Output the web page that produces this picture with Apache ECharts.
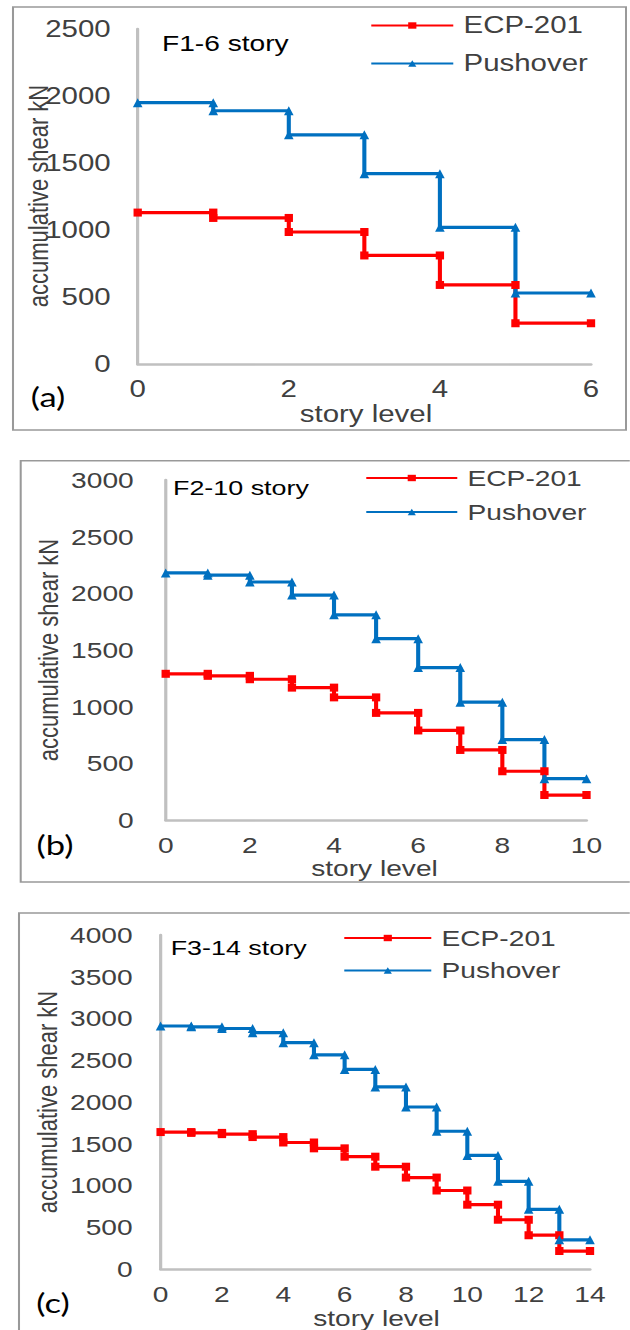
<!DOCTYPE html>
<html>
<head>
<meta charset="utf-8">
<script src="https://cdn.jsdelivr.net/npm/echarts@6/dist/echarts.min.js"></script>
<style>
  html, body { margin: 0; padding: 0; background: #fff; }
  #wrap { position: relative; width: 630px; height: 1330px; overflow: hidden; }
  .panel { position: absolute; left: 0; top: 0; height: 1330px; transform-origin: 0 0; }
</style>
</head>
<body>
<div id="wrap"></div>
<script>
// Accumulated storey shear (kN); entry i is the shear of storey i+1,
// drawn as a flat step from level i to level i+1.
const ecpA      = [1130, 1090, 985, 810, 590, 305];
const pushoverA = [1950, 1890, 1710, 1420, 1020, 530];

const ecpB      = [1290, 1272, 1242, 1168, 1082, 945, 790, 618, 430, 220];
const pushoverB = [2180, 2160, 2100, 1985, 1810, 1600, 1345, 1040, 710, 365];

const ecpC      = [1640, 1630, 1615, 1580, 1515, 1445, 1345, 1225, 1095, 940, 770, 590, 405, 215];
const pushoverC = [2910, 2900, 2880, 2830, 2710, 2565, 2390, 2180, 1940, 1650, 1360, 1050, 715, 350];

// axis ranges: [x max, x step, y max, y step]
const axisA = [6, 2, 2500, 500];
const axisB = [10, 2, 3000, 500];
const axisC = [14, 2, 4000, 500];

const seriesNames = ['ECP-201', 'Pushover'];
const panelTitles = ['F1-6 story', 'F2-10 story', 'F3-14 story'];
const panelTags   = ['(a)', '(b)', '(c)'];
const yAxisTitle  = 'accumulative shear kN';
const xAxisTitle  = 'story level';

// Each panel is laid out in page pixels and then widened horizontally.
const S = 1.28;
const FONT = '"Liberation Sans", Arial, sans-serif';
const TEXT = '#404040';

const layouts = [
  { axisX: 137.7, xEndX: 591,   yTop: 29,  yZero: 364,  box: [13, 7, 626, 430],
    lab: 27, legX: 370, legLine: 82, legTop: 14,  legGap: 15, titleX: 162, titleY: 43,
    tag: [48, 397], xName: [366, 414], yName: [38, 196], font: 22, tick: 23 },
  { axisX: 165.7, xEndX: 586.5, yTop: 480, yZero: 820,  box: [20.7, 460.7, 660, 882],
    lab: 32, legX: 365, legLine: 91, legTop: 467, legGap: 12, titleX: 173, titleY: 488,
    tag: [55, 845], xName: [374.5, 868], yName: [47.5, 650], font: 21, tick: 22 },
  { axisX: 160.6, xEndX: 590,   yTop: 935, yZero: 1269, box: [19, 913, 660, 1360],
    lab: 28, legX: 343, legLine: 87, legTop: 927, legGap: 10.5, titleX: 170.7, titleY: 948,
    tag: [53, 1303], xName: [376.5, 1318], yName: [47.4, 1102], font: 21, tick: 22 }
];

const panelData = [
  [ecpA, pushoverA, axisA],
  [ecpB, pushoverB, axisB],
  [ecpC, pushoverC, axisC]
];

// storey values -> stepped polyline with a point at both ends of each storey
function steps(values) {
  const pts = [];
  values.forEach((v, i) => { pts.push([i, v]); pts.push([i + 1, v]); });
  return pts;
}

const plain = v => String(v);
const wrap = document.getElementById('wrap');

layouts.forEach((L, k) => {
  const [ecp, push, ax] = panelData[k];
  const div = document.createElement('div');
  div.className = 'panel';
  div.style.width = (630 / S) + 'px';
  div.style.transform = 'scaleX(' + S + ')';
  wrap.appendChild(div);

  const chart = echarts.init(div, null, { renderer: 'svg' });
  const f = L.font;

  chart.setOption({
    animation: false,
    backgroundColor: 'transparent',
    grid: {
      left: L.axisX / S,
      top: L.yTop,
      width: (L.xEndX - L.axisX) / S,
      height: L.yZero - L.yTop,
      containLabel: false,
      outerBoundsMode: 'none'
    },
    xAxis: {
      type: 'value', min: 0, max: ax[0], interval: ax[1],
      axisLine: { show: true, onZero: false, lineStyle: { color: '#c0c0c0', width: 2.5 } },
      axisTick: { show: false },
      splitLine: { show: false },
      axisLabel: { color: TEXT, fontSize: L.tick, fontFamily: FONT, margin: 14, formatter: plain }
    },
    yAxis: {
      type: 'value', min: 0, max: ax[2], interval: ax[3],
      axisLine: { show: true, onZero: false, lineStyle: { color: '#c0c0c0', width: 2.5 } },
      axisTick: { show: false },
      splitLine: { show: false },
      axisLabel: { color: TEXT, fontSize: L.tick, fontFamily: FONT, margin: L.lab / S, formatter: plain }
    },
    legend: {
      orient: 'vertical',
      left: L.legX / S,
      top: L.legTop,
      padding: 0,
      itemWidth: L.legLine / S,
      itemHeight: 8,
      itemGap: L.legGap,
      textStyle: { color: TEXT, fontSize: f + 1, fontFamily: FONT, padding: [0, 0, 0, 3] },
      data: seriesNames
    },
    series: [
      {
        name: seriesNames[0], type: 'line', data: steps(ecp),
        symbol: 'rect', symbolSize: [6.5, 8], showAllSymbol: true,
        lineStyle: { color: '#ff0000', width: 3.2 },
        itemStyle: { color: '#ff0000' }
      },
      {
        name: seriesNames[1], type: 'line', data: steps(push),
        symbol: 'triangle', symbolSize: [7.5, 9], showAllSymbol: true,
        lineStyle: { color: '#0070c0', width: 3.2 },
        itemStyle: { color: '#0070c0' }
      }
    ],
    graphic: [
      {
        type: 'rect', silent: true,
        shape: { x: L.box[0] / S, y: L.box[1], width: (L.box[2] - L.box[0]) / S, height: L.box[3] - L.box[1] },
        style: { fill: 'none', stroke: '#999999', lineWidth: 1.6 }
      },
      {
        type: 'text', silent: true, x: L.titleX / S, y: L.titleY,
        style: { text: panelTitles[k], x: 0, y: 0, fill: '#000', fontSize: f, fontFamily: FONT,
                 align: 'left', verticalAlign: 'middle', textAlign: 'left', textVerticalAlign: 'middle' }
      },
      {
        type: 'text', silent: true, x: L.tag[0] / S, y: L.tag[1],
        style: { text: panelTags[k], x: 0, y: 0, fill: '#000', fontSize: 27, fontFamily: 'Lato, "Open Sans", sans-serif',
                 align: 'center', verticalAlign: 'middle', textAlign: 'center', textVerticalAlign: 'middle' }
      },
      {
        type: 'text', silent: true, x: L.xName[0] / S, y: L.xName[1],
        style: { text: xAxisTitle, x: 0, y: 0, fill: TEXT, fontSize: f + 1, fontFamily: FONT,
                 align: 'center', verticalAlign: 'middle', textAlign: 'center', textVerticalAlign: 'middle' }
      },
      {
        type: 'text', silent: true, x: L.yName[0] / S, y: L.yName[1], rotation: Math.PI / 2,
        style: { text: yAxisTitle, x: 0, y: 0, fill: TEXT, fontSize: 22, fontFamily: FONT,
                 align: 'center', verticalAlign: 'middle', textAlign: 'center', textVerticalAlign: 'middle' }
      }
    ]
  });
});
</script>
</body>
</html>
